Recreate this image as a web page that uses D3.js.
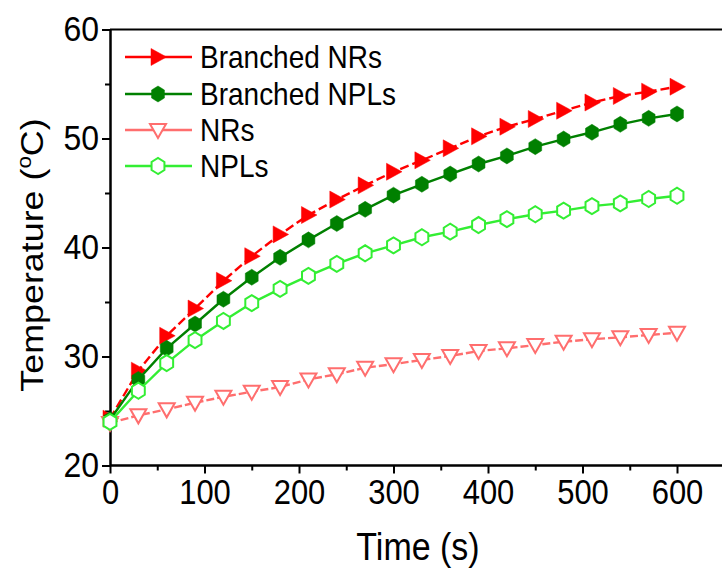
<!DOCTYPE html>
<html>
<head>
<meta charset="utf-8">
<script src="https://cdn.jsdelivr.net/npm/d3@7"></script>
<style>
  html, body { margin: 0; padding: 0; background: #fff; }
  svg { display: block; }
  text { font-family: "Liberation Sans", Arial, sans-serif; fill: #000; }
</style>
</head>
<body>
<svg id="chart" width="722" height="568"></svg>
<script>
// ---- data ----
const times = [0, 30, 60, 90, 120, 150, 180, 210, 240, 270, 300, 330, 360, 390, 420, 450, 480, 510, 540, 570, 600];
const branchedNRs  = [24.3, 28.7, 31.9, 34.4, 36.95, 39.2, 41.2, 42.98, 44.4, 45.7, 46.95, 48.0, 49.1, 50.2, 51.08, 51.79, 52.55, 53.3, 53.9, 54.3, 54.75];
const branchedNPLs = [24.2, 27.9, 30.75, 32.98, 35.25, 37.27, 39.1, 40.7, 42.2, 43.5, 44.8, 45.8, 46.74, 47.66, 48.4, 49.25, 49.95, 50.57, 51.3, 51.85, 52.25];
const NRs          = [23.9, 24.6, 25.15, 25.76, 26.3, 26.77, 27.2, 27.9, 28.37, 28.97, 29.3, 29.68, 30.05, 30.5, 30.75, 31.05, 31.36, 31.58, 31.76, 31.97, 32.18];
const NPLs         = [24.0, 26.86, 29.4, 31.5, 33.26, 34.9, 36.2, 37.4, 38.5, 39.47, 40.2, 40.94, 41.45, 42.06, 42.6, 43.05, 43.38, 43.8, 44.05, 44.45, 44.75];
const seriesNames = ["Branched NRs", "Branched NPLs", "NRs", "NPLs"];
const xTicks = [0, 100, 200, 300, 400, 500, 600];
const yTicks = [20, 30, 40, 50, 60];
const xLabel = "Time (s)";

// ---- styles ----
const styles = [
  {color: "#FF0000", dash: "9,4", shape: "triR", fill: true},
  {color: "#008000", dash: null,  shape: "hex",  fill: true},
  {color: "#FF6E6E", dash: "8,3", shape: "triD", fill: false},
  {color: "#33EE33", dash: null,  shape: "hex",  fill: false}
];
const seriesVals = [branchedNRs, branchedNPLs, NRs, NPLs];
const SY = 1.12; // vertical stretch of text

const svg = d3.select("#chart");
const x = d3.scaleLinear().domain([0, 650]).range([110, 724.25]);
const y = d3.scaleLinear().domain([20, 60]).range([465.5, 29.5]);

function markerPath(shape) {
  if (shape === "triR") {
    return "M-7,-8.5 L8.5,0 L-7,8.5 Z";
  } else if (shape === "triD") {
    return "M-8,-6 L8,-6 L0,8 Z";
  } else {
    const r = 8;
    const pts = d3.range(6).map(i => {
      const a = Math.PI / 2 + i * Math.PI / 3;
      return [r * 0.93 * Math.cos(a), r * Math.sin(a)];
    });
    return "M" + pts.map(p => p[0].toFixed(2) + "," + p[1].toFixed(2)).join("L") + "Z";
  }
}

// ---- axes ----
svg.append("line").attr("x1", 110).attr("x2", 722).attr("y1", y(60)).attr("y2", y(60))
  .attr("stroke", "#000").attr("stroke-width", 2);

const xAxis = d3.axisBottom(x).tickValues(xTicks).tickSize(8).tickSizeOuter(0).tickPadding(4).tickFormat(d3.format("d"));
const xMinor = d3.axisBottom(x).tickValues(d3.range(50, 700, 100)).tickSize(5).tickSizeOuter(0).tickFormat("");
const gx = svg.append("g").attr("transform", `translate(0,${y(20)})`).call(xAxis);
const gxm = svg.append("g").attr("transform", `translate(0,${y(20)})`).call(xMinor);
[gx, gxm].forEach(g => {
  g.select(".domain").attr("stroke", "#000").attr("stroke-width", 2).attr("d", `M110,0H722`);
  g.selectAll(".tick line").attr("stroke", "#000").attr("stroke-width", 2);
});
gx.selectAll(".tick text").attr("font-size", 31).attr("font-family", "Liberation Sans, Arial, sans-serif")
  .attr("dy", "0.72em").attr("transform", `scale(1,${SY})`);

const yAxis = d3.axisLeft(y).tickValues(yTicks).tickSize(8).tickSizeOuter(0).tickPadding(3).tickFormat(d3.format("d"));
const yMinor = d3.axisLeft(y).tickValues([25, 35, 45, 55]).tickSize(5).tickSizeOuter(0).tickFormat("");
const gy = svg.append("g").attr("transform", `translate(110,0)`).call(yAxis);
const gym = svg.append("g").attr("transform", `translate(110,0)`).call(yMinor);
[gy, gym].forEach(g => {
  g.select(".domain").attr("stroke", "#000").attr("stroke-width", 2);
  g.selectAll(".tick line").attr("stroke", "#000").attr("stroke-width", 2);
});
gy.selectAll(".tick text").attr("font-size", 32).attr("font-family", "Liberation Sans, Arial, sans-serif")
  .attr("transform", `scale(1,${SY})`);

// axis titles
svg.append("text").attr("transform", `translate(418,560) scale(1,${SY})`).attr("text-anchor", "middle")
  .attr("font-size", 34).text(xLabel);
const yt = svg.append("text").attr("transform", `translate(43,255) rotate(-90) scale(${SY},1)`)
  .attr("text-anchor", "middle").attr("font-size", 32);
yt.append("tspan").text("Temperature (");
yt.append("tspan").attr("font-size", 20).attr("dy", -12).text("o");
yt.append("tspan").attr("dy", 12).text("C)");

// ---- series ----
const line = d3.line().x(d => x(d[0])).y(d => y(d[1]));
seriesVals.forEach((vals, i) => {
  const st = styles[i];
  const pts = times.map((t, j) => [t, vals[j]]);
  const g = svg.append("g");
  g.append("path").datum(pts).attr("d", line).attr("fill", "none")
    .attr("stroke", st.color).attr("stroke-width", 2.4)
    .attr("stroke-dasharray", st.dash);
  g.selectAll("path.m").data(pts).enter().append("path").attr("class", "m")
    .attr("d", markerPath(st.shape))
    .attr("transform", d => `translate(${x(d[0])},${y(d[1])})`)
    .attr("fill", st.fill ? st.color : "#fff")
    .attr("stroke", st.color).attr("stroke-width", st.fill ? 0.5 : 2);
});

// ---- legend ----
const legY = [57, 94, 130, 166];
seriesNames.forEach((name, i) => {
  const st = styles[i];
  const g = svg.append("g").attr("transform", `translate(0,${legY[i]})`);
  g.append("line").attr("x1", 125).attr("x2", 192).attr("y1", 0).attr("y2", 0)
    .attr("stroke", st.color).attr("stroke-width", 2.4);
  g.append("path").attr("d", markerPath(st.shape)).attr("transform", "translate(158,0)")
    .attr("fill", st.fill ? st.color : "#fff")
    .attr("stroke", st.color).attr("stroke-width", st.fill ? 0.5 : 2);
  g.append("text").attr("transform", `translate(200,0) scale(1,${SY})`).attr("dy", "0.36em")
    .attr("font-size", 28).text(name);
});
</script>
</body>
</html>
